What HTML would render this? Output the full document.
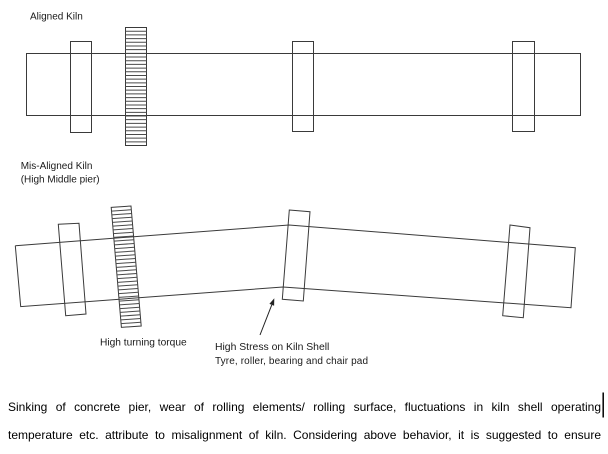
<!DOCTYPE html>
<html>
<head>
<meta charset="utf-8">
<style>
  html, body { margin: 0; padding: 0; background: #fff; }
  body { width: 608px; height: 454px; position: relative; overflow: hidden; }
  svg { position: absolute; left: 0; top: 0; }
  .ln { position: absolute; left: 8px; width: 593px; font-family: "Liberation Sans", Arial, sans-serif; font-size: 12px; line-height: 12px; color: #000; text-align: justify; text-align-last: justify; white-space: nowrap; }
  .ln span { white-space: normal; }
</style>
</head>
<body>
<svg width="608" height="454" viewBox="0 0 608 454" xmlns="http://www.w3.org/2000/svg">
  <defs>
    <g id="gear">
      <rect x="0" y="0" width="1" height="1" fill="none" stroke="#3a3a3a" stroke-width="1" vector-effect="non-scaling-stroke"/>
      <g stroke="#4a4a4a" stroke-width="1" fill="none" vector-effect="non-scaling-stroke">
        <path vector-effect="non-scaling-stroke" d="M0 0.03125H1M0 0.0625H1M0 0.09375H1M0 0.125H1M0 0.15625H1M0 0.1875H1M0 0.21875H1M0 0.25H1M0 0.28125H1M0 0.3125H1M0 0.34375H1M0 0.375H1M0 0.40625H1M0 0.4375H1M0 0.46875H1M0 0.5H1M0 0.53125H1M0 0.5625H1M0 0.59375H1M0 0.625H1M0 0.65625H1M0 0.6875H1M0 0.71875H1M0 0.75H1M0 0.78125H1M0 0.8125H1M0 0.84375H1M0 0.875H1M0 0.90625H1M0 0.9375H1M0 0.96875H1"/>
      </g>
    </g>
  </defs>

  <g font-family="Liberation Sans, Arial, sans-serif" fill="#1a1a1a">
    <text x="30" y="19.3" font-size="10">Aligned Kiln</text>
    <text x="20.7" y="169" font-size="10">Mis-Aligned Kiln</text>
    <text x="20.7" y="182.5" font-size="10">(High Middle pier)</text>
    <text x="100" y="345.7" font-size="10.2">High turning torque</text>
    <text x="215" y="350" font-size="10.4">High Stress on Kiln Shell</text>
    <text x="215" y="364" font-size="10" letter-spacing="0.12">Tyre, roller, bearing and chair pad</text>
  </g>

  <!-- Aligned kiln -->
  <g fill="none" stroke="#3a3a3a" stroke-width="1">
    <rect x="26.5" y="53.5" width="554" height="62"/>
    <rect x="70.5" y="41.5" width="21" height="91"/>
    <rect x="292.5" y="41.5" width="21" height="90"/>
    <rect x="512.5" y="41.5" width="22" height="90"/>
  </g>
  <use href="#gear" transform="matrix(21,0,0,118,125.5,27.5)"/>

  <!-- Mis-aligned kiln -->
  <g fill="none" stroke="#3a3a3a" stroke-width="1" stroke-linejoin="miter">
    <polyline points="15.3,245.7 289,225 575.3,247.7 571,307.7 283,287 20.7,306.6 15.3,245.7"/>
    <polygon points="58.3,224.3 79,223.3 86,314 65.7,315.7"/>
    <polygon points="289.3,210 310,211.7 303.3,301 282.3,299.3"/>
    <polygon points="510,225 530,227.7 523.3,317.7 502.7,315.7"/>
  </g>
  <use href="#gear" transform="matrix(19.8,-1.4,10.2,120,111.2,207.4)"/>

  <!-- Arrow -->
  <line x1="260" y1="335" x2="271.8" y2="304.8" stroke="#222" stroke-width="1"/>
  <polygon points="274.3,298.3 274.1,305.7 269.4,303.9" fill="#222"/>

  <!-- cursor -->
  <line x1="603.2" y1="392.5" x2="603.2" y2="417.5" stroke="#000" stroke-width="1.5"/>
</svg>

<div class="ln" style="top:400.5px;"><span>Sinking of concrete pier, wear of rolling elements/ rolling surface, fluctuations in kiln shell operating</span></div>
<div class="ln" style="top:429.2px;"><span>temperature etc. attribute to misalignment of kiln. Considering above behavior, it is suggested to ensure</span></div>
</body>
</html>
